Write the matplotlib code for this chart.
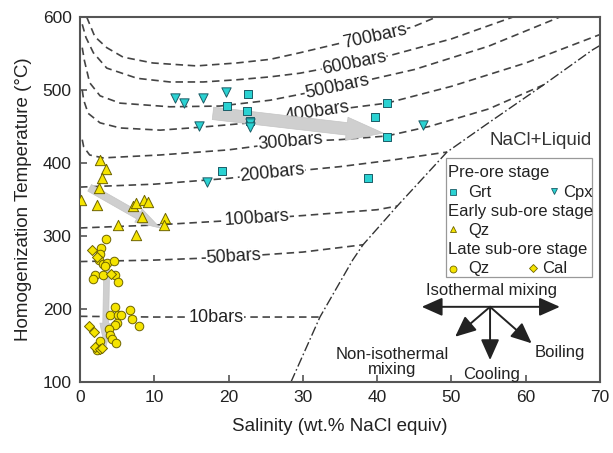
import numpy as np
import matplotlib
matplotlib.use("Agg")
import matplotlib.pyplot as plt

plt.rcParams["font.family"] = ["Liberation Sans", "DejaVu Sans"]

# isobars (salinity wt.%, temperature C)
iso_700_x = [0.9, 2.0, 3.6, 5.8, 9.8, 15.7, 21.1, 25.6, 29.6, 35.0, 40.0, 44.7, 48.0]
iso_700_t = [600, 573, 558, 545, 537, 533, 537, 542, 551, 564, 574, 586, 600]
iso_600_x = [0.3, 0.8, 1.8, 3.6, 7.7, 12.1, 16.6, 21.1, 25.6, 29.6, 36.9, 42.0, 50.0, 58.3]
iso_600_t = [590, 572, 551, 530, 516, 511, 511, 514, 518, 523, 537, 548, 570, 600]
iso_500_x = [0.3, 0.6, 1.3, 2.7, 5.4, 12.1, 18.8, 25.6, 34.6, 45.0, 55.0, 64.6]
iso_500_t = [558, 540, 510, 492, 482, 477, 478, 486, 504, 528, 560, 600]
iso_400_x = [0.3, 0.5, 1.1, 2.7, 5.4, 10.8, 16.2, 22.9, 27.3, 32.0, 41.3, 50.0, 60.0, 70.0]
iso_400_t = [500, 486, 468, 455, 448, 445, 449, 455, 462, 470, 482, 505, 537, 576]
iso_300_x = [0.3, 0.5, 1.3, 3.1, 10.8, 20.0, 28.3, 35.0, 41.3, 47.0, 55.0, 62.4]
iso_300_t = [432, 422, 411, 407, 411, 418, 429, 432, 437, 450, 474, 507]
iso_200_x = [0.0, 10.0, 20.0, 25.9, 35.0, 42.0, 49.4]
iso_200_t = [367, 371, 379, 386, 395, 404, 415]
iso_100_x = [0.0, 10.0, 20.0, 30.0, 40.0, 42.7]
iso_100_t = [311, 315, 321, 328, 336, 341]
iso_50_x = [0.0, 10.0, 20.0, 30.0, 38.1]
iso_50_t = [265, 267, 271, 278, 288]
iso_10_x = [0.0, 10.0, 20.0, 32.3]
iso_10_t = [190, 189, 189, 189]

isobars = [
    ("700bars", iso_700_x, iso_700_t, 39.7),
    ("600bars", iso_600_x, iso_600_t, 36.9),
    ("500bars", iso_500_x, iso_500_t, 34.6),
    ("400bars", iso_400_x, iso_400_t, 32.0),
    ("300bars", iso_300_x, iso_300_t, 28.3),
    ("200bars", iso_200_x, iso_200_t, 25.9),
    ("100bars", iso_100_x, iso_100_t, 23.8),
    ("50bars", iso_50_x, iso_50_t, 20.7),
    ("10bars", iso_10_x, iso_10_t, 18.3),
]

# halite saturation curve
sat_x = [28.4, 32.3, 36.7, 38.1, 42.7, 49.4, 55.0, 62.4, 69.0, 70.0]
sat_t = [100, 189, 267, 288, 341, 415, 455, 507, 555, 561]

# pre-ore stage
grt_x = [22.6, 19.8, 22.5, 22.9, 19.1, 41.3, 39.7, 41.3, 38.8]
grt_t = [495, 478, 471, 458, 389, 482, 463, 436, 379]
cpx_x = [12.8, 14.0, 16.6, 19.7, 16.0, 22.9, 22.9, 17.1, 46.2]
cpx_t = [489, 482, 489, 497, 451, 455, 449, 374, 452]

# early sub-ore stage
qz1_x = [2.7, 3.5, 2.9, 2.6, 0.1, 2.3, 7.1, 7.5, 8.6, 9.2, 8.3, 5.1, 7.6, 11.4, 11.3]
qz1_t = [404, 392, 380, 366, 349, 342, 341, 345, 349, 347, 326, 315, 301, 325, 315]

# late sub-ore stage
qz2_x = [3.5, 2.8, 2.7, 2.6, 3.1, 3.6, 3.4, 4.6, 2.0, 1.7, 3.1, 4.7, 5.1,
         4.7, 6.7, 4.0, 5.1, 5.5, 7.0, 7.9, 5.0, 4.7, 3.9, 4.0, 4.3, 4.8, 2.7, 2.3]
qz2_t = [296, 284, 275, 267, 262, 263, 259, 266, 247, 241, 247, 247, 237,
         203, 199, 192, 192, 192, 186, 177, 181, 178, 173, 164, 159, 153, 156, 144]
cal_x = [1.6, 2.3, 4.2, 1.2, 1.9, 2.0, 2.7, 3.0]
cal_t = [281, 271, 248, 177, 169, 148, 145, 147]

# gray evolution arrows: (tail, tip, tail width, head width, head length)
trends = [
    ((17.9, 468), (40.8, 441), 0.75, 1.4, 2.2),
    ((1.3, 366), (10.8, 311), 0.45, 0.9, 1.5),
    ((3.6, 262), (3.4, 144), 0.35, 0.7, 1.6),
]

cyan = "#2ad2d2"
cyan_edge = "#1b5c66"
yellow = "#f5e400"
yellow_edge = "#6e6400"
line_col = "#444444"
frame_col = "#555555"

fig = plt.figure(figsize=(6.13, 4.53), dpi=100)
ax = fig.add_axes([0.1305, 0.1567, 0.8483, 0.8058])
ax.set_xlim(0, 70)
ax.set_ylim(100, 600)

for name, xs, ts, lx in isobars:
    ax.plot(xs, ts, color=line_col, lw=1.2, linestyle=(0, (4.5, 2.8)), zorder=2)

ax.plot(sat_x, sat_t, color="#333333", lw=1.0, linestyle=(0, (7, 2, 1.2, 2)), zorder=2)

fig.canvas.draw()
for name, xs, ts, lx in isobars:
    ly = np.interp(lx, xs, ts)
    p1 = ax.transData.transform((lx - 2.5, np.interp(lx - 2.5, xs, ts)))
    p2 = ax.transData.transform((lx + 2.5, np.interp(lx + 2.5, xs, ts)))
    ang = np.degrees(np.arctan2(p2[1] - p1[1], p2[0] - p1[0]))
    ax.text(lx, ly, name, rotation=ang, rotation_mode="anchor", ha="center", va="center",
            fontsize=13, color="#222222", zorder=3,
            bbox=dict(fc="white", ec="none", pad=0.3))

for tail, tip, tw, hw, hl in trends:
    ax.annotate("", xy=tip, xytext=tail, zorder=4,
                arrowprops=dict(arrowstyle="simple,head_length=%g,head_width=%g,tail_width=%g" % (hl, hw, tw),
                                fc="#cfcfcf", ec="#c4c4c4", lw=0.5, mutation_scale=12,
                                shrinkA=0, shrinkB=0))

ax.scatter(grt_x, grt_t, marker="s", s=30, c=cyan, edgecolors=cyan_edge, linewidths=0.7, zorder=5)
ax.scatter(cpx_x, cpx_t, marker="v", s=45, c=cyan, edgecolors=cyan_edge, linewidths=0.7, zorder=5)
ax.scatter(qz1_x, qz1_t, marker="^", s=55, c=yellow, edgecolors=yellow_edge, linewidths=0.7, zorder=5)
ax.scatter(qz2_x, qz2_t, marker="o", s=38, c=yellow, edgecolors=yellow_edge, linewidths=0.7, zorder=5)
ax.scatter(cal_x, cal_t, marker="D", s=26, c=yellow, edgecolors=yellow_edge, linewidths=0.7, zorder=5)

ax.text(0.985, 0.663, "NaCl+Liquid", transform=ax.transAxes, ha="right", va="center",
        fontsize=13.5, color="#333333")

# legend drawn by hand
box = plt.Rectangle((0.704, 0.288), 0.281, 0.326, transform=ax.transAxes,
                    fc="white", ec="#999999", lw=0.9, zorder=6)
ax.add_patch(box)
lt = dict(transform=ax.transAxes, fontsize=12, color="#222222", va="center", zorder=7)
ax.text(0.708, 0.575, "Pre-ore stage", **lt)
ax.text(0.708, 0.466, "Early sub-ore stage", **lt)
ax.text(0.708, 0.364, "Late sub-ore stage", **lt)
ax.text(0.746, 0.520, "Grt", **lt)
ax.text(0.929, 0.520, "Cpx", **lt)
ax.text(0.746, 0.416, "Qz", **lt)
ax.text(0.746, 0.310, "Qz", **lt)
ax.text(0.888, 0.310, "Cal", **lt)
mk = dict(transform=ax.transAxes, ls="none", zorder=7, mew=0.6)
ax.plot([0.718], [0.520], marker="s", ms=4, mfc=cyan, mec=cyan_edge, **mk)
ax.plot([0.911], [0.522], marker="v", ms=5, mfc=cyan, mec=cyan_edge, **mk)
ax.plot([0.718], [0.418], marker="^", ms=5, mfc=yellow, mec=yellow_edge, **mk)
ax.plot([0.718], [0.310], marker="o", ms=5, mfc=yellow, mec=yellow_edge, **mk)
ax.plot([0.872], [0.312], marker="D", ms=4, mfc=yellow, mec=yellow_edge, **mk)

# process sketch
cx, cy = 55.2, 203
ak = dict(arrowstyle="-|>,head_length=0.9,head_width=0.4", color="#222222", lw=1.4,
          mutation_scale=14, shrinkA=0, shrinkB=0)
ax.annotate("", xy=(46.0, cy), xytext=(64.6, cy),
            arrowprops=dict(ak, arrowstyle="<|-|>,head_length=0.9,head_width=0.4"))
for end in [(50.5, 162), (55.2, 130), (60.8, 153)]:
    ax.annotate("", xy=end, xytext=(cx, cy), arrowprops=ak)
tk = dict(fontsize=12, color="#222222", ha="center", va="center")
ax.text(55.4, 226, "Isothermal mixing", **tk)
ax.text(42.0, 127, "Non-isothermal\nmixing", linespacing=1.0, **tk)
ax.text(55.4, 110, "Cooling", **tk)
ax.text(64.6, 141, "Boiling", **tk)

ax.set_xticks(range(0, 71, 10))
ax.set_yticks(range(100, 601, 100))
ax.tick_params(direction="in", length=5, width=1.2, color=frame_col, labelsize=12.5,
               labelcolor="#222222", pad=6)
for sp in ax.spines.values():
    sp.set_color(frame_col)
    sp.set_linewidth(1.5)
ax.set_xlabel("Salinity (wt.% NaCl equiv)", fontsize=13.5, color="#222222", labelpad=9)
ax.set_ylabel("Homogenization Temperature (\u00b0C)", fontsize=13.5, color="#222222", labelpad=8)

fig.savefig("out.png", dpi=100)
